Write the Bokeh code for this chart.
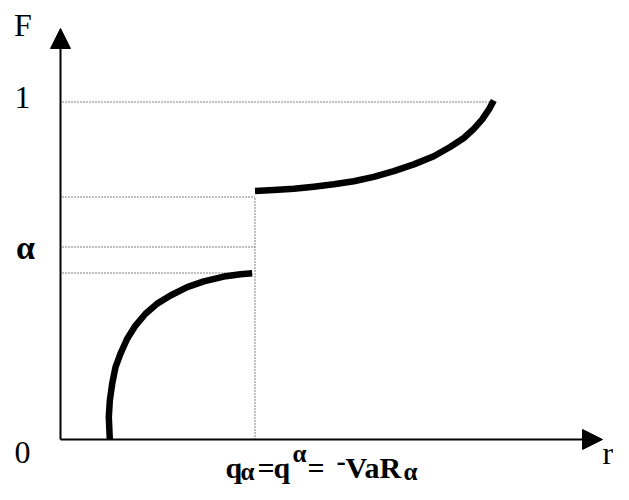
from bokeh.plotting import figure
from bokeh.models import Range1d, Arrow, NormalHead
from bokeh.embed import file_html
from bokeh.resources import INLINE
from bokeh.core.properties import value

# ---- data (r on the x axis, F on the y axis) ----
lower_r = [0.493, 0.483, 0.493, 0.517, 0.55, 0.60, 0.667, 0.75, 0.85, 0.967,
           1.10, 1.267, 1.433, 1.633, 1.80, 1.917]
lower_F = [0.0, 0.066, 0.115, 0.165, 0.214, 0.254, 0.298, 0.337, 0.372, 0.402,
           0.426, 0.451, 0.468, 0.482, 0.489, 0.492]
upper_r = [1.945, 2.133, 2.333, 2.533, 2.733, 2.933, 3.133, 3.333, 3.533, 3.733,
           3.90, 4.033, 4.133, 4.217, 4.283, 4.333]
upper_F = [0.735, 0.738, 0.742, 0.748, 0.755, 0.764, 0.777, 0.794, 0.814, 0.838,
           0.866, 0.892, 0.919, 0.947, 0.976, 1.003]

q_alpha = 1.945     # quantile position on r
F_low = 0.4926      # left limit at q_alpha
F_alpha = 0.5695    # alpha level
F_high = 0.7175     # value at q_alpha
F_top = 0.9985
r_top = 4.33
r_axis_max = 5.42
F_axis_max = 1.216

tick_labels = ["F", "1", "α", "0"]
tick_r = [-0.375, -0.38, -0.35, -0.38]
tick_F = [1.2278, 1.0118, 0.5695, -0.0385]

p = figure(width=613, height=484, output_backend="svg", toolbar_location=None,
           x_range=Range1d(-0.60, 5.53), y_range=Range1d(-0.13314, 1.29882),
           min_border=0, min_border_left=0, min_border_right=0,
           min_border_top=0, min_border_bottom=0)
p.axis.visible = False
p.grid.visible = False
p.outline_line_color = None
p.background_fill_color = "white"
p.border_fill_color = "white"

# dotted guide lines
gx0 = [0.02, 0.02, 0.02, 0.02, q_alpha]
gy0 = [F_top, F_high, F_alpha, F_low, 0.0]
gx1 = [r_top, q_alpha, q_alpha, q_alpha - 0.04, q_alpha]
gy1 = [F_top, F_high, F_alpha, F_low, F_high]
p.segment(gx0, gy0, gx1, gy1, line_color="black", line_width=1, line_dash="1 2")

# axes with arrowheads
p.add_layout(Arrow(x_start=0, y_start=0, x_end=0, y_end=F_axis_max, line_width=2,
                   line_color="black",
                   end=NormalHead(size=20, fill_color="black", line_color="black")))
p.add_layout(Arrow(x_start=0, y_start=0, x_end=r_axis_max, y_end=0, line_width=2,
                   line_color="black",
                   end=NormalHead(size=20, fill_color="black", line_color="black")))

# distribution function branches
p.line(lower_r, lower_F, line_width=6.5, line_color="black", line_join="round")
p.line(upper_r, upper_F, line_width=6.5, line_color="black", line_join="round")

serif = value("Liberation Serif")

# axis texts
p.text(x=tick_r[:2] + [tick_r[3]], y=tick_F[:2] + [tick_F[3]],
       text=[tick_labels[0], tick_labels[1], tick_labels[3]],
       text_font=serif, text_font_size="32px", text_align="center",
       text_baseline="alphabetic", text_color="black")
p.text(x=[tick_r[2]], y=[tick_F[2]], text=[tick_labels[2]], text_font=serif,
       text_font_size="34px", text_font_style="bold", text_align="center",
       text_baseline="alphabetic", text_color="black")
p.text(x=[5.42], y=[-0.0385], text=["r"], text_font=serif, text_font_size="32px",
       text_align="left", text_baseline="alphabetic", text_color="black")

# bottom label  q_α = q^α = -VaR_α
main_r = [1.65, 1.97, 2.13, 2.47, 2.85]
main_F = [-0.0828] * 5
main_t = ["q", "=", "q", "=", "VaR"]
p.text(x=main_r, y=main_F, text=main_t, text_font=serif, text_font_size="30px",
       text_font_style="bold", text_align="left", text_baseline="alphabetic",
       text_color="black")
p.text(x=[2.76], y=[-0.0636], text=["-"], text_font=serif, text_font_size="28px",
       text_font_style="bold", text_align="left", text_baseline="alphabetic",
       text_color="black")
small_r = [1.80, 2.32, 3.43]
small_F = [-0.0932, -0.0429, -0.0932]
p.text(x=small_r, y=small_F, text=["α", "α", "α"], text_font=serif,
       text_font_size="25px", text_font_style="bold", text_align="left",
       text_baseline="alphabetic", text_color="black")

open("out.html", "w").write(file_html(p, INLINE))
